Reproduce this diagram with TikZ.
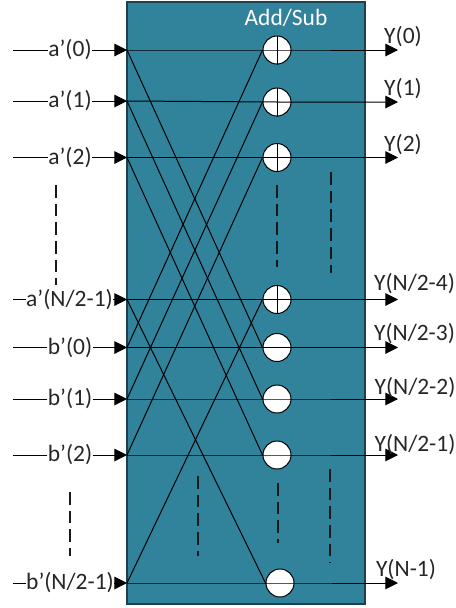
\documentclass[tikz,border=0pt]{standalone}
\usepackage{fontspec}
\setmainfont{Carlito}
\usetikzlibrary{arrows.meta}
\definecolor{panel}{HTML}{31829B}
\definecolor{edge}{HTML}{1E3F4C}
\tikzset{
  x=0.75pt,y=-0.75pt,
  panelbox/.style={draw=edge,fill=panel,line width=1.1pt},
  sumnode/.style={circle,draw=black,fill=white,line width=0.75pt,minimum size=21pt,inner sep=0pt},
  wire/.style={draw=black,line width=0.75pt},
  arrowwire/.style={wire,-{Triangle[length=9.5pt,width=9.5pt]}},
  inlabel/.style={fill=white,inner sep=0.4pt,font=\fontsize{17.6pt}{19pt}\selectfont,text=black!85},
  outlabel/.style={inner sep=0pt,font=\fontsize{17.6pt}{19pt}\selectfont,text=black!85},
  dots/.style={draw=black!90,line width=0.8pt,dash pattern=on 9.5pt off 4.5pt},
  plusbar/.style={draw=black,line width=0.75pt}
}
\begin{document}
\begin{tikzpicture}
\useasboundingbox (0,0) rectangle (455,608);
\path[panelbox] (127,2) rectangle (365,604);
\node[font=\fontsize{17.6pt}{19pt}\selectfont,text=white,inner sep=0pt] (title) at (286,18) {Add/Sub};
% adder nodes
\node[sumnode] (s0) at (277,50) {};
\node[sumnode] (s1) at (277,102) {};
\node[sumnode] (s2) at (277,157.5) {};
\node[sumnode] (s3) at (277,299.5) {};
\node[sumnode] (s4) at (277,347.5) {};
\node[sumnode] (s5) at (277,399) {};
\node[sumnode] (s6) at (277,455) {};
\node[sumnode] (s7) at (280,583) {};
\foreach \n in {s0,s1,s2,s3}{\draw[plusbar] (\n.north) -- (\n.south);}
% left ends
\foreach \n/\yy in {ia0/50,ia1/101,ia2/157.5,ia3/299.5,ib0/347.5,ib1/399,ib2/455,ib3/583}{
  \coordinate (\n) at (127,\yy);
  \coordinate (\n-s) at (13,\yy);
}
\foreach \n/\yy in {o0/50,o1/102,o2/157.5,o3/299.5,o4/347.5,o5/399,o6/455,o7/583}{
  \coordinate (\n) at (398,\yy);
}
% input arrows
\foreach \n in {ia0,ia1,ia2,ia3,ib0,ib1,ib2,ib3}{\draw[arrowwire] (\n-s) -- (\n);}
% straight-through wires with output arrows
\draw[arrowwire] (ia0) -- (s0.center) -- (o0);
\draw[arrowwire] (ia1) -- (s1.center) -- (o1);
\draw[arrowwire] (ia2) -- (s2.center) -- (o2);
\draw[arrowwire] (ia3) -- (s3.center) -- (o3);
\draw[arrowwire] (ib0) -- (s4.center) -- (o4);
\draw[arrowwire] (ib1) -- (s5.center) -- (o5);
\draw[arrowwire] (ib2) -- (s6.center) -- (o6);
\draw[arrowwire] (ib3) -- (s7.center) -- (o7);
% crossing wires
\draw[wire] (ia0) -- (s4.west);
\draw[wire] (ia1) -- (s5.west);
\draw[wire] (ia2) -- (s6.west);
\draw[wire] (ia3) -- (s7.west);
\draw[wire] (ib0) -- (s0.west);
\draw[wire] (ib1) -- (s1.west);
\draw[wire] (ib2) -- (s2.west);
\draw[wire] (ib3) -- (s3.west);
% input labels
\node[inlabel] (la0) at (70,50) {a’(0)};
\node[inlabel] (la1) at (70,101) {a’(1)};
\node[inlabel] (la2) at (70,157.5) {a’(2)};
\node[inlabel] (la3) at (69.5,299.5) {a’(N/2-1)};
\node[inlabel] (lb0) at (70,347.5) {b’(0)};
\node[inlabel] (lb1) at (70,399) {b’(1)};
\node[inlabel] (lb2) at (70,455) {b’(2)};
\node[inlabel] (lb3) at (70,583) {b’(N/2-1)};
% output labels
\node[outlabel] (y0) at (403,37) {Y(0)};
\node[outlabel] (y1) at (403,89) {Y(1)};
\node[outlabel] (y2) at (403,145) {Y(2)};
\node[outlabel] (y3) at (414.5,284) {Y(N/2-4)};
\node[outlabel] (y4) at (414.5,334) {Y(N/2-3)};
\node[outlabel] (y5) at (415,388) {Y(N/2-2)};
\node[outlabel] (y6) at (415,445) {Y(N/2-1)};
\node[outlabel] (y7) at (406,570) {Y(N-1)};
% continuation dashes
\coordinate (d1a) at (56,185); \coordinate (d1b) at (56,285);
\coordinate (d2a) at (70,492); \coordinate (d2b) at (70,556);
\coordinate (d3a) at (277,185); \coordinate (d3b) at (277,267);
\coordinate (d4a) at (331,172); \coordinate (d4b) at (331,273);
\coordinate (d5a) at (198,476); \coordinate (d5b) at (198,556);
\coordinate (d6a) at (278,483); \coordinate (d6b) at (278,543);
\coordinate (d7a) at (330,469); \coordinate (d7b) at (330,563);
\foreach \k in {1,...,7}{\draw[dots] (d\k a) -- (d\k b);}
\end{tikzpicture}
\end{document}
